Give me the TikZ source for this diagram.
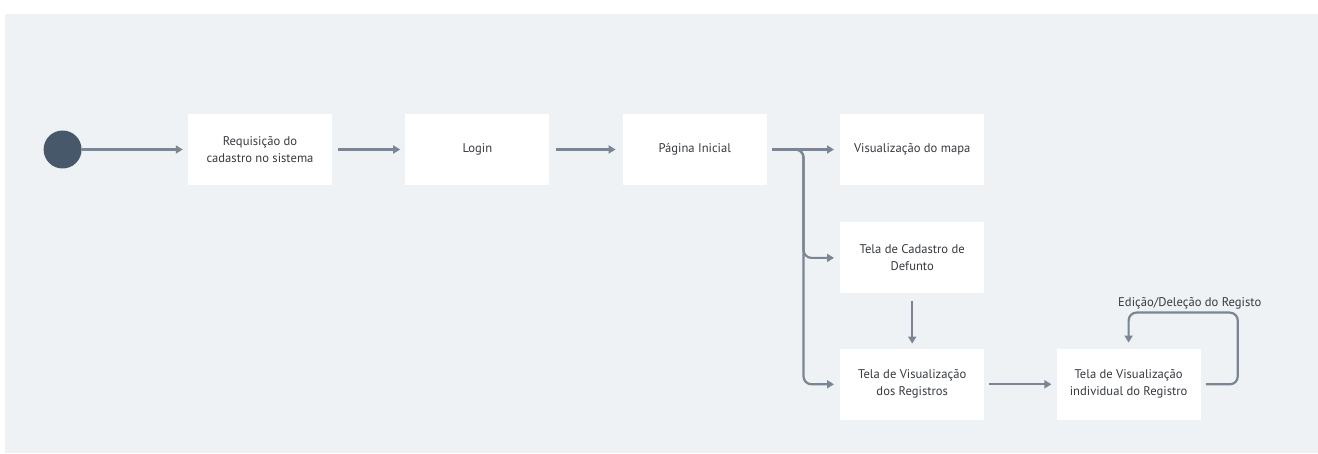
\documentclass[tikz,border=0pt]{standalone}
\usepackage{fontspec}
\setmainfont{PT Sans}
\usepackage{tikz}
\usetikzlibrary{arrows.meta,positioning,calc}
\definecolor{panel}{HTML}{EFF2F5}
\definecolor{wire}{HTML}{7A8694}
\definecolor{dot}{HTML}{46586A}
\definecolor{ink}{HTML}{363B40}

\begin{document}
\begin{tikzpicture}[
  x=1pt, y=1pt,
  node distance=73pt,
  box/.style={fill=white, minimum width=144pt, minimum height=71pt,
              align=center, font=\fontsize{12.6}{17}\selectfont, text=ink},
  start/.style={circle, fill=dot, minimum size=38pt, inner sep=0pt},
  arr/.style={-{Triangle[length=7pt,width=8pt]}, line width=2.2pt, draw=wire, color=wire},
  lbl/.style={font=\fontsize{12.6}{15}\selectfont, text=ink, inner sep=2pt}
]
% backdrop
\useasboundingbox (0,0) rectangle (1318,454);
\fill[panel] (5,1) rectangle (1318,440);

% main row
\node[box] (req) at (260,304.5) {Requisição do\\cadastro no sistema};
\node[start, left=106pt of req] (ini) {};
\node[box, right=of req] (login) {Login};
\node[box, right=of login] (pag) {Página Inicial};
\node[box, right=of pag] (mapa) {Visualização do mapa};

% column under the map
\node[box, below=37pt of mapa] (cad) {Tela de Cadastro de\\Defunto};
\node[box, below=55pt of cad] (vis) {Tela de Visualização\\dos Registros};
\node[box, right=72pt of vis] (ind) {Tela de Visualização\\individual do Registro};

\draw[arr] (ini) -- ([xshift=-5pt]req.west);
\draw[arr] ([xshift=6pt]req.east) -- ([xshift=-5pt]login.west);
\draw[arr] ([xshift=6pt]login.east) -- ([xshift=-7pt]pag.west);
\draw[arr] ([xshift=5pt]pag.east) -- ([xshift=-6pt]mapa.west);

% branch off the start page
\coordinate (split) at ($(pag.east)!.5!(mapa.west)$);
\draw[arr, rounded corners=8pt] ([xshift=5pt]pag.east) -- (split) |- ([xshift=-6pt]cad.west);
\draw[arr, rounded corners=8pt] ([xshift=5pt]pag.east) -- (split) |- ([xshift=-6pt]vis.west);

\draw[arr] ([yshift=-7pt]cad.south) -- ([yshift=5pt]vis.north);
\draw[arr] ([xshift=5pt]vis.east) -- ([xshift=-5pt]ind.west);

% edit / delete loop
\draw[arr, rounded corners=8pt] ([xshift=5pt]ind.east) -- ++(32,0)
  |- ([yshift=36pt]ind.north) node[lbl, pos=.72, above] (edit) {Edição/Deleção do Registo}
  -- ([yshift=6pt]ind.north);
\end{tikzpicture}
\end{document}
